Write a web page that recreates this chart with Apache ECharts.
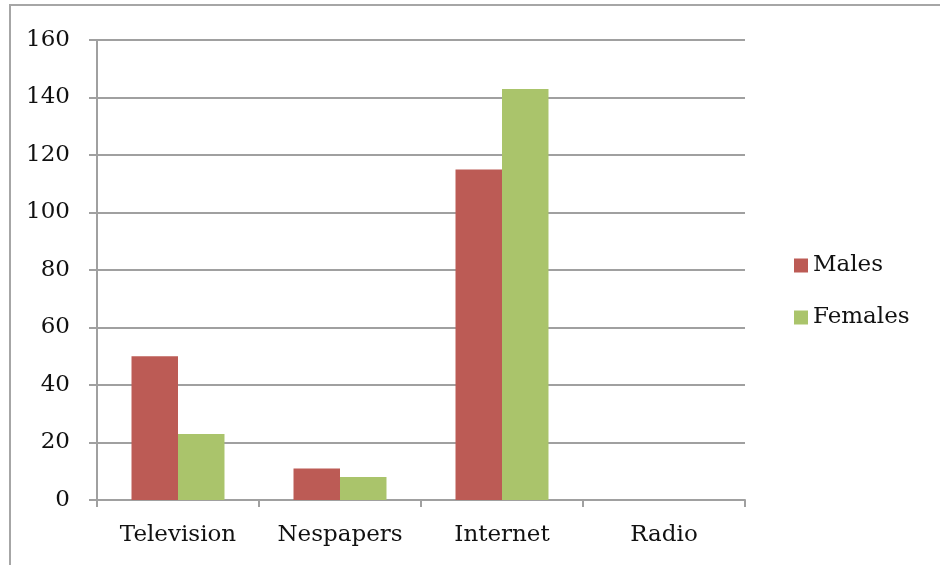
<!DOCTYPE html>
<html>
<head>
<meta charset="utf-8">
<style>
  html, body { margin: 0; padding: 0; background: #fff; }
  #chart { width: 940px; height: 565px; }
</style>
<script src="https://cdn.jsdelivr.net/npm/echarts@6/dist/echarts.min.js"></script>
</head>
<body>
<div id="chart"></div>
<script>
// Media usage by gender
const categories = ['Television', 'Nespapers', 'Internet', 'Radio'];
const males = [50, 11, 115, 0];
const females = [23, 8, 143, 0];
const yTicks = { min: 0, max: 160, interval: 20 };

const FONT = 'DejaVu Serif';
const FONT_SIZE = 23;
const LINE = '#a0a0a0';

const chart = echarts.init(document.getElementById('chart'));
chart.setOption({
  animation: false,
  backgroundColor: '#fff',
  textStyle: { fontFamily: FONT },
  graphic: [{
    type: 'rect',
    shape: { x: 10, y: 5, width: 1000, height: 700 },
    style: { fill: 'none', stroke: '#a6a6a6', lineWidth: 2 },
    silent: true
  }],
  grid: { left: 97, right: 195, top: 40, bottom: 65 },
  legend: {
    orient: 'vertical',
    left: 789,
    top: 249,
    itemWidth: 14,
    itemHeight: 14,
    itemGap: 29,
    icon: 'rect',
    textStyle: { fontFamily: FONT, fontSize: FONT_SIZE, color: '#111' },
    data: ['Males', 'Females']
  },
  xAxis: {
    type: 'category',
    data: categories,
    boundaryGap: true,
    axisLine: { lineStyle: { color: LINE, width: 2 } },
    axisTick: { show: true, interval: 0, length: 7, lineStyle: { color: LINE, width: 2 } },
    axisLabel: { interval: 0, hideOverlap: false, fontFamily: FONT, fontSize: FONT_SIZE, color: '#111', margin: 24 },
    splitLine: { show: false }
  },
  yAxis: {
    type: 'value',
    min: yTicks.min,
    max: yTicks.max,
    interval: yTicks.interval,
    axisLine: { show: true, lineStyle: { color: LINE, width: 2 } },
    axisTick: { show: true, length: 8, lineStyle: { color: LINE, width: 2 } },
    axisLabel: { fontFamily: FONT, fontSize: FONT_SIZE, color: '#111', margin: 27 },
    splitLine: { show: true, lineStyle: { color: LINE, width: 2 } }
  },
  series: [
    {
      name: 'Males',
      type: 'bar',
      data: males,
      barGap: '0%',
      barCategoryGap: '42.6%',
      itemStyle: { color: '#BC5B55' }
    },
    {
      name: 'Females',
      type: 'bar',
      data: females,
      barGap: '0%',
      barCategoryGap: '42.6%',
      itemStyle: { color: '#AAC46B' }
    }
  ]
});
</script>
</body>
</html>
